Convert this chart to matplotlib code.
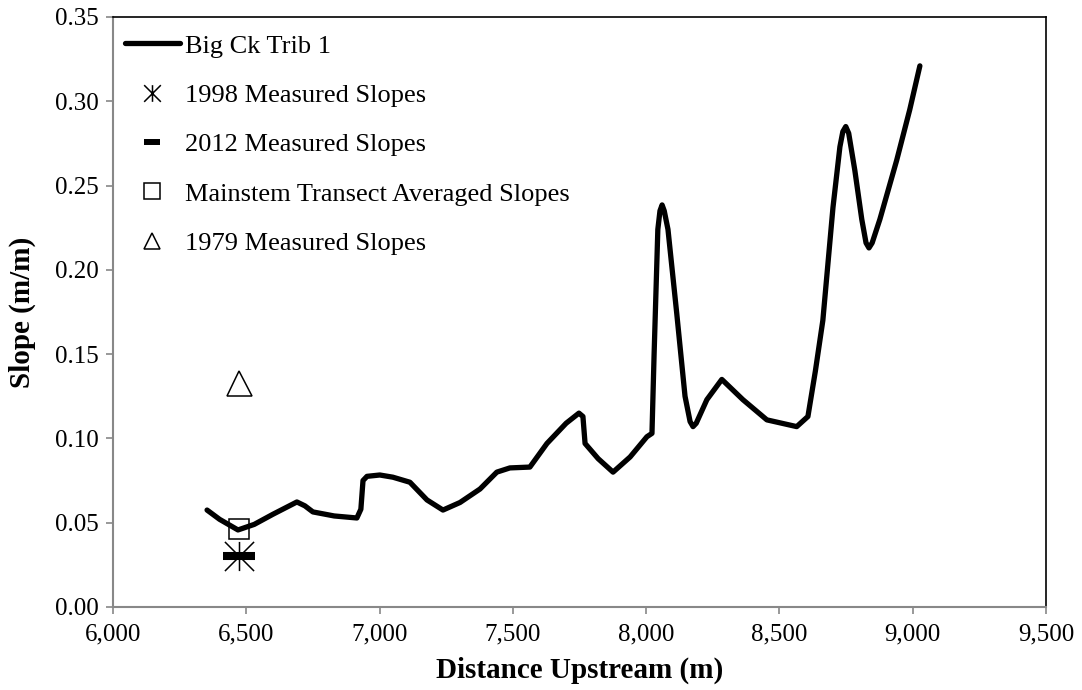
import matplotlib
matplotlib.use('Agg')
import matplotlib.pyplot as plt
from matplotlib.path import Path
from matplotlib.ticker import FuncFormatter

plt.rcParams['font.family'] = ['Liberation Serif', 'DejaVu Serif']

# Big Ck Trib 1 profile (distance upstream in m, slope m/m)
dist = [6353, 6400, 6469, 6530, 6600, 6690, 6720, 6750, 6830, 6915, 6930, 6938,
        6953, 7001, 7050, 7114, 7178, 7238, 7302, 7377, 7440, 7489, 7564, 7628,
        7700, 7748, 7763, 7771, 7820, 7876, 7940, 8003, 8022, 8030, 8044, 8052,
        8060, 8068, 8082, 8115, 8146, 8165, 8176, 8188, 8228, 8284, 8363, 8453,
        8565, 8607, 8635, 8663, 8701, 8727, 8738, 8749, 8760, 8783, 8809, 8825,
        8836, 8848, 8877, 8940, 8989, 9027]
slope = [0.0575, 0.052, 0.0457, 0.049, 0.055, 0.0623, 0.060, 0.0564, 0.054, 0.0528, 0.058, 0.075,
         0.0775, 0.0783, 0.077, 0.074, 0.0635, 0.0575, 0.062, 0.070, 0.080, 0.0825, 0.083, 0.097,
         0.109, 0.115, 0.113, 0.097, 0.088, 0.080, 0.089, 0.101, 0.103, 0.150, 0.224, 0.235,
         0.2385, 0.235, 0.224, 0.174, 0.125, 0.110, 0.107, 0.109, 0.123, 0.135, 0.123, 0.111,
         0.107, 0.113, 0.140, 0.170, 0.237, 0.273, 0.282, 0.285, 0.281, 0.259, 0.230, 0.216,
         0.213, 0.216, 0.230, 0.265, 0.295, 0.321]

# measured slopes
x1998, y1998 = [6473], [0.030]
x2012, y2012 = [6473], [0.030]
xmain, ymain = [6473], [0.0463]
x1979, y1979 = [6473], [0.133]

# excel style asterisk: vertical stroke plus an X
star = Path([(0, -1), (0, 1), (-1, -1), (1, 1), (-1, 1), (1, -1)],
            [Path.MOVETO, Path.LINETO, Path.MOVETO, Path.LINETO, Path.MOVETO, Path.LINETO])

fig = plt.figure(figsize=(10.82, 6.90), dpi=100)
ax = fig.add_axes([0.1044, 0.1203, 0.8623, 0.8551])

ax.plot(dist, slope, color='black', linewidth=3.8, solid_joinstyle='round',
        solid_capstyle='round', label='Big Ck Trib 1', zorder=3)
ax.plot(x1998, y1998, linestyle='none', marker=star, markersize=21,
        markeredgecolor='black', markeredgewidth=1.1, label='1998 Measured Slopes', zorder=4)
ax.plot(x2012, y2012, linestyle='none', marker='_', markersize=23,
        markeredgecolor='black', markeredgewidth=5.8, label='2012 Measured Slopes', zorder=4)
ax.plot(xmain, ymain, linestyle='none', marker='s', markersize=14, markerfacecolor='none',
        markeredgecolor='black', markeredgewidth=1.1, label='Mainstem Transect Averaged Slopes', zorder=5)
ax.plot(x1979, y1979, linestyle='none', marker='^', markersize=18, markerfacecolor='none',
        markeredgecolor='black', markeredgewidth=1.1, label='1979 Measured Slopes', zorder=4)

ax.set_xlim(6000, 9500)
ax.set_ylim(0, 0.35)
ax.set_xticks(range(6000, 9501, 500))
ax.set_yticks([i * 0.05 for i in range(8)])
ax.xaxis.set_major_formatter(FuncFormatter(lambda v, p: f'{int(v):,}'))
ax.yaxis.set_major_formatter(FuncFormatter(lambda v, p: f'{v:.2f}'))
ax.tick_params(direction='out', length=5, width=1.2, color='#888888', labelsize=18)
ax.tick_params(axis='x', pad=7)
ax.tick_params(axis='y', pad=5)

for s in ['left', 'bottom']:
    ax.spines[s].set_color('#888888')
    ax.spines[s].set_linewidth(1.5)
for s in ['top', 'right']:
    ax.spines[s].set_color('black')
    ax.spines[s].set_linewidth(1.2)

ax.set_xlabel('Distance Upstream (m)', fontsize=21, fontweight='bold', labelpad=8)
ax.set_ylabel('Slope (m/m)', fontsize=21, fontweight='bold', labelpad=14)

leg = ax.legend(loc='upper left', bbox_to_anchor=(-0.006, 1.0), frameon=False, fontsize=19,
                handlelength=2.1, handletextpad=0.2, labelspacing=0.98,
                borderaxespad=0.45, borderpad=0.2)
# legend icons are smaller than the plotted markers
h = leg.legend_handles
h[1].set_markersize(12)
h[2].set_markersize(12)
h[2].set_markeredgewidth(4.3)
h[3].set_markersize(12)
h[4].set_markersize(12)

fig.savefig('out.png', dpi=100)
